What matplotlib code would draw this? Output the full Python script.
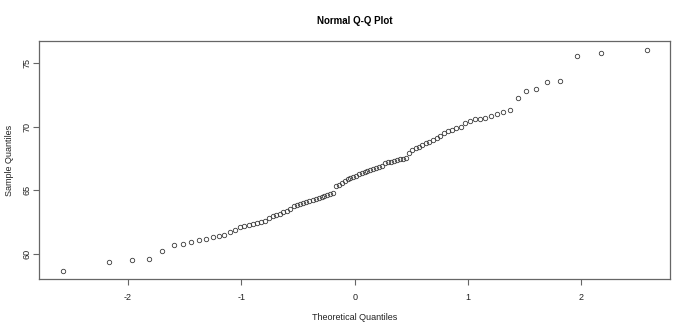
import numpy as np
import matplotlib
matplotlib.use("Agg")
import matplotlib.pyplot as plt
from statistics import NormalDist

plt.rcParams['font.family'] = ['Liberation Sans', 'DejaVu Sans']
plt.rcParams['axes.unicode_minus'] = False

# sorted sample (100 values)
sample = [
    58.70, 59.41, 59.51, 59.59, 60.23, 60.68, 60.76, 60.97, 61.07, 61.15,
    61.30, 61.44, 61.46, 61.70, 61.85, 62.09, 62.20, 62.28, 62.36, 62.44,
    62.52, 62.63, 62.83, 62.95, 63.06, 63.18, 63.30, 63.41, 63.57, 63.80,
    63.88, 63.96, 64.04, 64.12, 64.20, 64.27, 64.35, 64.43, 64.51, 64.59,
    64.66, 64.74, 64.82, 65.31, 65.45, 65.60, 65.76, 65.88, 65.99, 66.07,
    66.11, 66.30, 66.38, 66.46, 66.54, 66.62, 66.70, 66.77, 66.87, 66.95,
    67.16, 67.22, 67.27, 67.32, 67.37, 67.43, 67.48, 67.55, 67.97, 68.18,
    68.34, 68.45, 68.57, 68.69, 68.84, 69.00, 69.11, 69.31, 69.51, 69.66,
    69.78, 69.92, 70.00, 70.27, 70.47, 70.60, 70.63, 70.66, 70.84, 70.97,
    71.13, 71.30, 72.27, 72.81, 73.00, 73.52, 73.59, 75.55, 75.84, 76.07,
]
x_ticks = [-2, -1, 0, 1, 2]
y_ticks = [60, 65, 70, 75]

# theoretical normal quantiles, ppoints style
n = len(sample)
theo = [NormalDist().inv_cdf((i - 0.5) / n) for i in range(1, n + 1)]

fig = plt.figure(figsize=(6.9, 3.26), dpi=100)
ax = fig.add_axes([0.057, 0.143, 0.914, 0.732])

ax.plot(theo, sample, linestyle='none', marker='o', markersize=3.2,
        markerfacecolor='none', markeredgecolor='#3a3a3a', markeredgewidth=0.6)

# 4% padding like R
def pad(lo, hi):
    r = hi - lo
    return lo - 0.04 * r, hi + 0.04 * r

ax.set_xlim(*pad(min(theo), max(theo)))
ax.set_ylim(*pad(min(sample), max(sample)))
ax.set_xticks(x_ticks)
ax.set_yticks(y_ticks)
ax.set_yticklabels([str(v) for v in y_ticks], rotation=90, va='center')

for s in ax.spines.values():
    s.set_color('#666666')
    s.set_linewidth(0.9)
ax.tick_params(direction='out', length=4, width=0.8, color='#666666',
               labelsize=6.5, labelcolor='#222222', pad=5.5)
ax.tick_params(axis='y', pad=1.5)

ax.set_title('Normal Q-Q Plot', fontsize=7, fontweight='bold', pad=12)
ax.set_xlabel('Theoretical Quantiles', fontsize=6.5, color='#222222', labelpad=8)
ax.set_ylabel('Sample Quantiles', fontsize=6.5, color='#222222', labelpad=6)

fig.savefig('out.png', dpi=100)
